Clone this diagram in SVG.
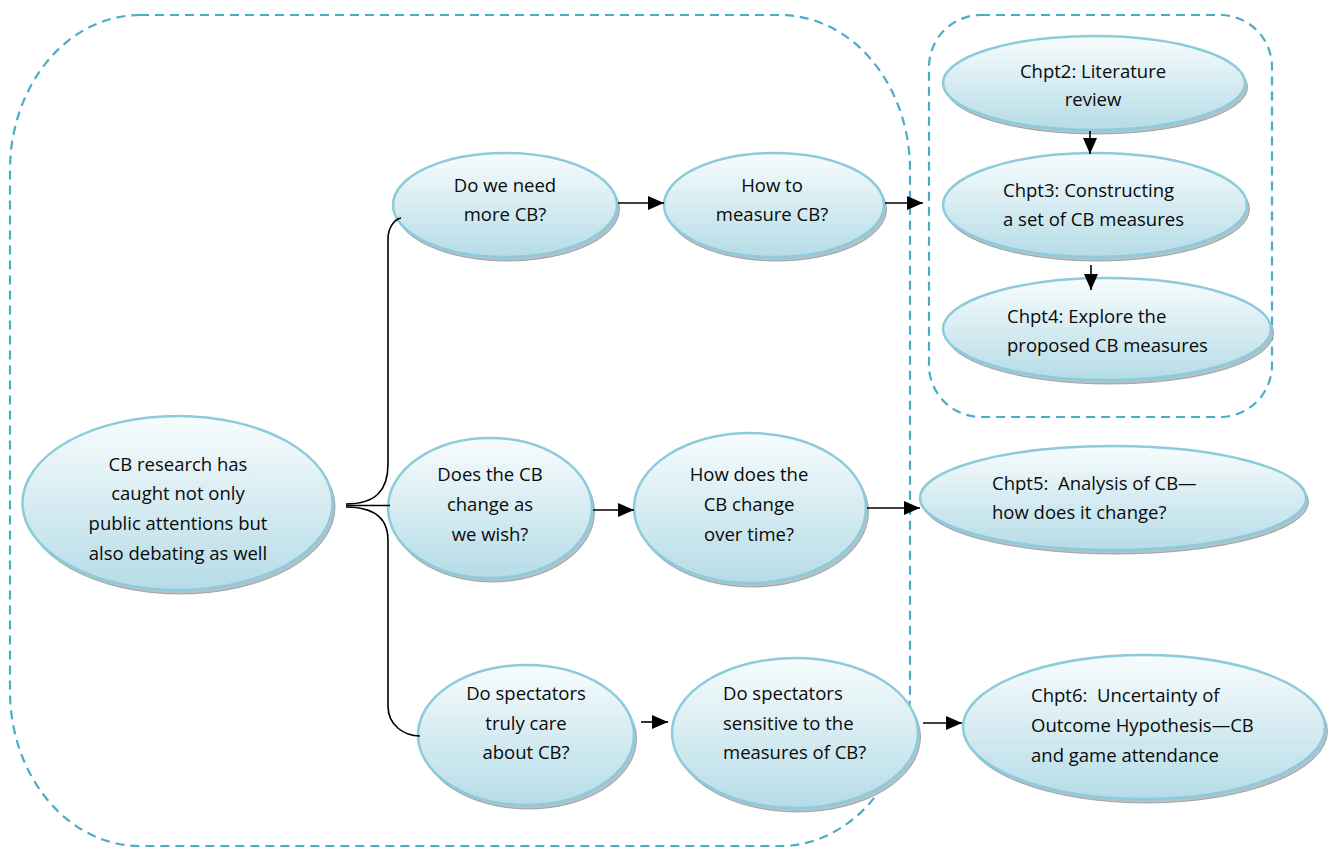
<svg xmlns="http://www.w3.org/2000/svg" width="1328" height="848" viewBox="0 0 1328 848">
<defs>
<linearGradient id="g" x1="0" y1="0" x2="0" y2="1">
<stop offset="0" stop-color="#f8fcfd"/>
<stop offset="1" stop-color="#b5dce7"/>
</linearGradient>
<marker id="ah" markerWidth="16" markerHeight="14" refX="16" refY="7" orient="auto" markerUnits="userSpaceOnUse">
<path d="M0,0 L16,7 L0,14 z" fill="#000"/>
</marker>
</defs>
<style>
.box{fill:none;stroke:#4bacc6;stroke-width:2.2;stroke-dasharray:9 6}
.face{fill:url(#g);stroke:#8ccbdb;stroke-width:2.5}
.sh{fill:#b4c2c7;stroke:#7d8e95;stroke-width:0.7}
.t{font-family:"Open Sans","Liberation Sans",sans-serif;font-size:18.5px;fill:#0a0a0a}
.c{text-anchor:middle}
.ln{fill:none;stroke:#000;stroke-width:1.6}
.ar{fill:none;stroke:#000;stroke-width:1.6;marker-end:url(#ah)}
</style>
<rect class="box" x="10" y="15" width="900" height="831" rx="130" ry="155"/>
<rect class="box" x="929" y="15" width="343" height="402" rx="52" ry="52"/>
<g id="n0">
<ellipse class="sh" cx="180" cy="507" rx="155" ry="87"/>
<ellipse class="face" cx="177.5" cy="503" rx="155" ry="87"/>
<text class="t c" x="178" y="471">CB research has</text>
<text class="t c" x="178" y="500">caught not only</text>
<text class="t c" x="178" y="530">public attentions but</text>
<text class="t c" x="178" y="560">also debating as well</text>
</g>
<g id="n1">
<ellipse class="sh" cx="507.5" cy="209" rx="112" ry="52"/>
<ellipse class="face" cx="505" cy="205" rx="112" ry="52"/>
<text class="t c" x="505" y="192">Do we need</text>
<text class="t c" x="505" y="221">more CB?</text>
</g>
<g id="n2">
<ellipse class="sh" cx="776.5" cy="209" rx="110" ry="52"/>
<ellipse class="face" cx="774" cy="205" rx="110" ry="52"/>
<text class="t c" x="772" y="192">How to</text>
<text class="t c" x="772" y="221">measure CB?</text>
</g>
<g id="n3">
<ellipse class="sh" cx="1096.5" cy="87" rx="151" ry="47"/>
<ellipse class="face" cx="1094" cy="83" rx="151" ry="47"/>
<text class="t c" x="1093" y="78">Chpt2: Literature</text>
<text class="t c" x="1093" y="106">review</text>
</g>
<g id="n4">
<ellipse class="sh" cx="1097.5" cy="209" rx="152" ry="52"/>
<ellipse class="face" cx="1095" cy="205" rx="152" ry="52"/>
<text class="t" x="1003" y="197">Chpt3: Constructing</text>
<text class="t" x="1003" y="226">a set of CB measures</text>
</g>
<g id="n5">
<ellipse class="sh" cx="1109.5" cy="333" rx="164" ry="51"/>
<ellipse class="face" cx="1107" cy="329" rx="164" ry="51"/>
<text class="t" x="1007" y="323">Chpt4: Explore the</text>
<text class="t" x="1007" y="352">proposed CB measures</text>
</g>
<g id="n6">
<ellipse class="sh" cx="492.5" cy="512" rx="102" ry="70"/>
<ellipse class="face" cx="490" cy="508" rx="102" ry="70"/>
<text class="t c" x="490" y="481">Does the CB</text>
<text class="t c" x="490" y="511">change as</text>
<text class="t c" x="490" y="541">we wish?</text>
</g>
<g id="n7">
<ellipse class="sh" cx="752.5" cy="512" rx="116" ry="75"/>
<ellipse class="face" cx="750" cy="508" rx="116" ry="75"/>
<text class="t c" x="749" y="481">How does the</text>
<text class="t c" x="749" y="511">CB change</text>
<text class="t c" x="749" y="541">over time?</text>
</g>
<g id="n8">
<ellipse class="sh" cx="1115.5" cy="502" rx="193" ry="52"/>
<ellipse class="face" cx="1113" cy="498" rx="193" ry="52"/>
<text class="t" x="992" y="490" xml:space="preserve">Chpt5:  Analysis of CB—</text>
<text class="t" x="992" y="519">how does it change?</text>
</g>
<g id="n9">
<ellipse class="sh" cx="528.5" cy="739" rx="108" ry="70"/>
<ellipse class="face" cx="526" cy="735" rx="108" ry="70"/>
<text class="t c" x="526" y="700">Do spectators</text>
<text class="t c" x="526" y="730">truly care</text>
<text class="t c" x="526" y="759">about CB?</text>
</g>
<g id="n10">
<ellipse class="sh" cx="797.5" cy="737" rx="123" ry="75"/>
<ellipse class="face" cx="795" cy="733" rx="123" ry="75"/>
<text class="t" x="723" y="700">Do spectators</text>
<text class="t" x="723" y="730">sensitive to the</text>
<text class="t" x="723" y="759">measures of CB?</text>
</g>
<g id="n11">
<ellipse class="sh" cx="1146.5" cy="731" rx="181" ry="72"/>
<ellipse class="face" cx="1144" cy="727" rx="181" ry="72"/>
<text class="t" x="1031" y="702" xml:space="preserve">Chpt6:  Uncertainty of</text>
<text class="t" x="1031" y="732">Outcome Hypothesis—CB</text>
<text class="t" x="1031" y="762">and game attendance</text>
</g>
<g id="connectors">
<path class="ln" d="M346,504 C376,504 388,490 388,464 L388,239 C388,227 395,219 401,218"/>
<path class="ln" d="M346,507 C376,507 388,520 388,540 L388,706 C388,726 405,736 420,736"/>
<path class="ln" d="M346,505.5 L390,505.5"/>
<path class="ar" d="M618,203 L664,203"/>
<path class="ar" d="M885,203 L923,203"/>
<path class="ar" d="M1090,131 L1090,154"/>
<path class="ar" d="M1091,265 L1091,290"/>
<path class="ar" d="M593,510 L634,510"/>
<path class="ar" d="M867,508 L920,508"/>
<path class="ar" d="M641,722 L668,722"/>
<path class="ar" d="M923,723 L962,723"/>
</g>
</svg>
